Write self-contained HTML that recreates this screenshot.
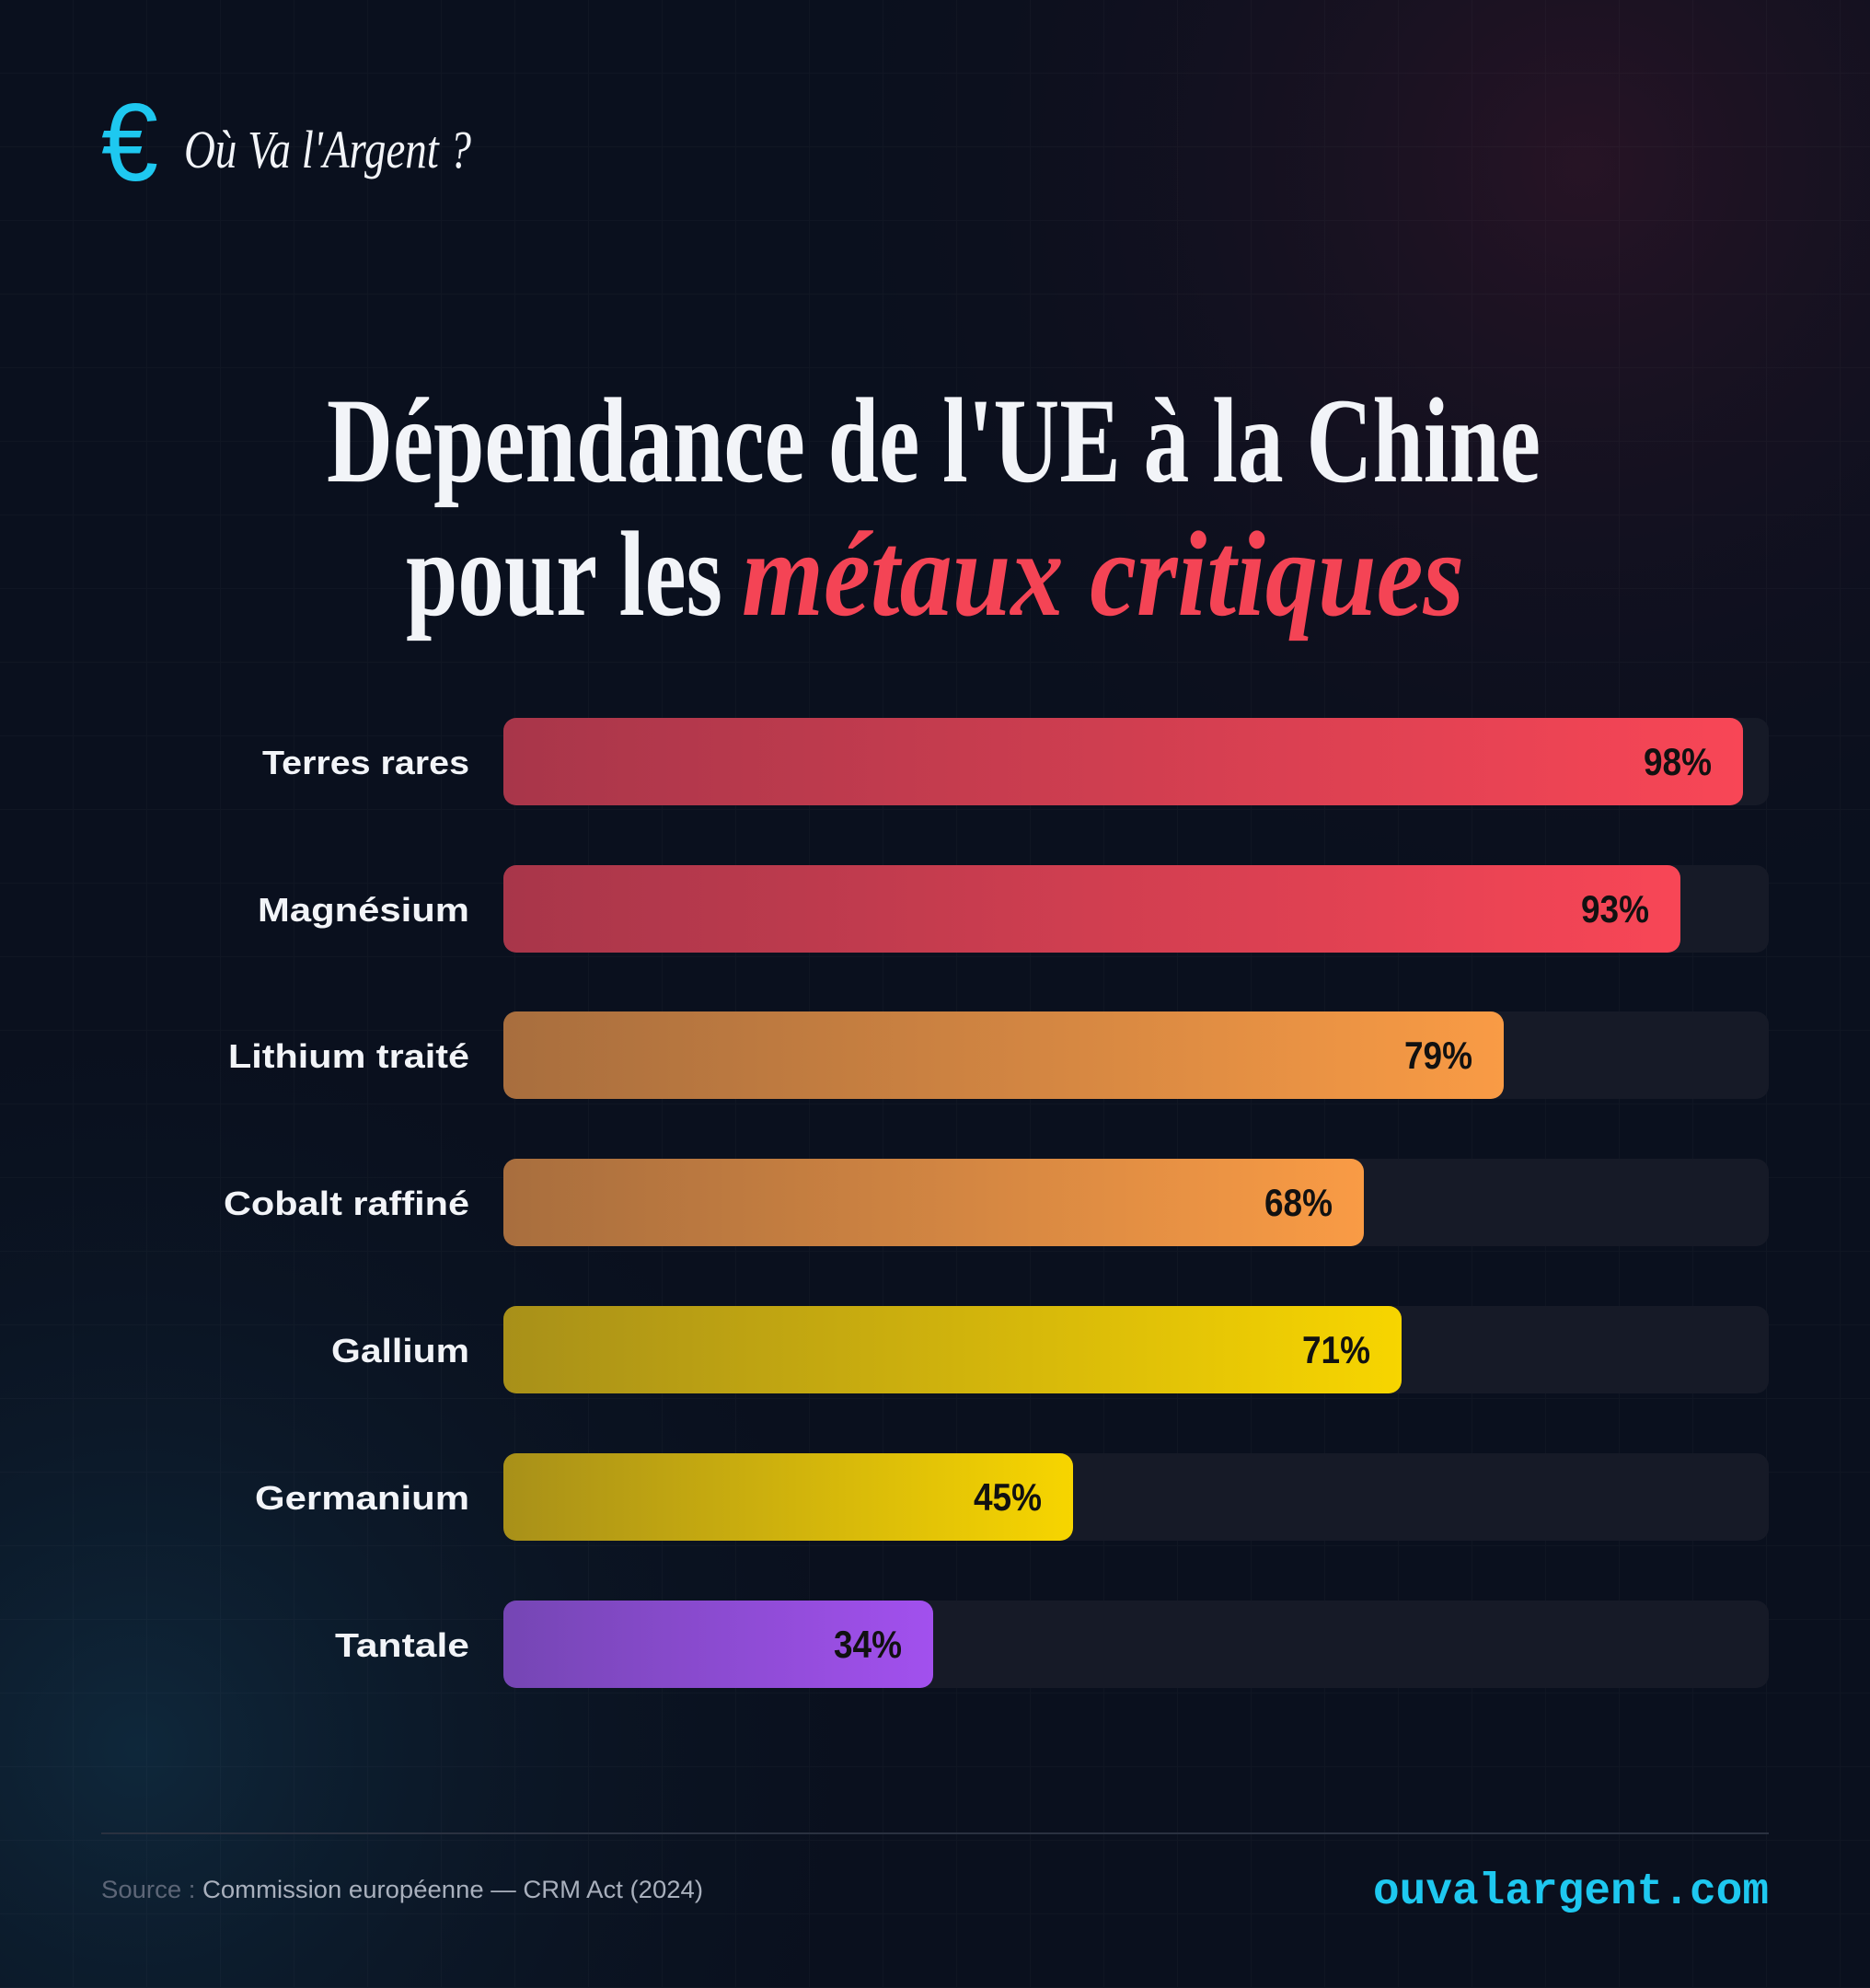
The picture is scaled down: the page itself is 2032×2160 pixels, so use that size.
<!DOCTYPE html>
<html><head><meta charset="utf-8"><style>
html,body{margin:0;padding:0;background:#0a1120;}
svg{display:block}
</style></head><body>
<svg width="2032" height="2160" viewBox="0 0 2032 2160" xmlns="http://www.w3.org/2000/svg">
<defs>
<radialGradient id="g1" cx="1720" cy="180" r="900" gradientUnits="userSpaceOnUse">
<stop offset="0" stop-color="#2a1426" stop-opacity="0.9"/><stop offset="1" stop-color="#0a0f1c" stop-opacity="0"/></radialGradient>
<radialGradient id="g2" cx="150" cy="1900" r="900" gradientUnits="userSpaceOnUse">
<stop offset="0" stop-color="#0f2a3e" stop-opacity="0.9"/><stop offset="1" stop-color="#0a0f1c" stop-opacity="0"/></radialGradient>
<pattern id="grid" width="80" height="80" patternUnits="userSpaceOnUse"><path d="M80 0V80H0" fill="none" stroke="#ffffff" stroke-opacity="0.025" stroke-width="2"/></pattern>
<linearGradient id="red" x1="0" x2="1"><stop offset="0" stop-color="#a8364a"/><stop offset="1" stop-color="#f84656"/></linearGradient>
<linearGradient id="org" x1="0" x2="1"><stop offset="0" stop-color="#a86e3e"/><stop offset="1" stop-color="#f99b45"/></linearGradient>
<linearGradient id="yel" x1="0" x2="1"><stop offset="0" stop-color="#a89019"/><stop offset="1" stop-color="#f7d500"/></linearGradient>
<linearGradient id="pur" x1="0" x2="1"><stop offset="0" stop-color="#7546b4"/><stop offset="1" stop-color="#a250ee"/></linearGradient>
</defs>
<rect width="2032" height="2160" fill="#0a101e"/>
<rect width="2032" height="2160" fill="url(#g1)"/>
<rect width="2032" height="2160" fill="url(#g2)"/>
<rect width="2032" height="2160" fill="url(#grid)"/>

<text x="110" y="196" font-family="Liberation Sans, sans-serif" font-size="120" fill="#1ec8f0" textLength="62" lengthAdjust="spacingAndGlyphs">€</text>
<text x="200" y="182" font-family="Liberation Serif, serif" font-style="italic" font-size="58" fill="#f2f4f8" textLength="312" lengthAdjust="spacingAndGlyphs">Où Va l'Argent ?</text>

<text x="355" y="523" font-family="Liberation Serif, serif" font-weight="bold" font-size="132" fill="#f2f4f8" textLength="1319" lengthAdjust="spacingAndGlyphs">Dépendance de l'UE à la Chine</text>
<text x="441" y="668" font-family="Liberation Serif, serif" font-weight="bold" font-size="132" fill="#f2f4f8" textLength="344" lengthAdjust="spacingAndGlyphs">pour les</text>
<text x="806" y="668" font-family="Liberation Serif, serif" font-weight="bold" font-style="italic" font-size="132" fill="#f44455" textLength="785" lengthAdjust="spacingAndGlyphs">métaux critiques</text>

<g font-family="Liberation Sans, sans-serif" font-weight="bold">
<g transform="translate(0,780)">
<rect x="547" width="1375" height="95" rx="14" fill="#161a27"/><rect x="547" width="1347" height="95" rx="14" fill="url(#red)"/>
<text x="285" y="61" font-size="36" fill="#f2f4f8" textLength="225" lengthAdjust="spacingAndGlyphs">Terres rares</text>
<text x="1786" y="62" font-size="42" fill="#111" textLength="74" lengthAdjust="spacingAndGlyphs">98%</text></g>
<g transform="translate(0,940)">
<rect x="547" width="1375" height="95" rx="14" fill="#161a27"/><rect x="547" width="1279" height="95" rx="14" fill="url(#red)"/>
<text x="280" y="61" font-size="36" fill="#f2f4f8" textLength="230" lengthAdjust="spacingAndGlyphs">Magnésium</text>
<text x="1718" y="62" font-size="42" fill="#111" textLength="74" lengthAdjust="spacingAndGlyphs">93%</text></g>
<g transform="translate(0,1099)">
<rect x="547" width="1375" height="95" rx="14" fill="#161a27"/><rect x="547" width="1087" height="95" rx="14" fill="url(#org)"/>
<text x="248" y="61" font-size="36" fill="#f2f4f8" textLength="262" lengthAdjust="spacingAndGlyphs">Lithium traité</text>
<text x="1526" y="62" font-size="42" fill="#111" textLength="74" lengthAdjust="spacingAndGlyphs">79%</text></g>
<g transform="translate(0,1259)">
<rect x="547" width="1375" height="95" rx="14" fill="#161a27"/><rect x="547" width="935" height="95" rx="14" fill="url(#org)"/>
<text x="243" y="61" font-size="36" fill="#f2f4f8" textLength="267" lengthAdjust="spacingAndGlyphs">Cobalt raffiné</text>
<text x="1374" y="62" font-size="42" fill="#111" textLength="74" lengthAdjust="spacingAndGlyphs">68%</text></g>
<g transform="translate(0,1419)">
<rect x="547" width="1375" height="95" rx="14" fill="#161a27"/><rect x="547" width="976" height="95" rx="14" fill="url(#yel)"/>
<text x="360" y="61" font-size="36" fill="#f2f4f8" textLength="150" lengthAdjust="spacingAndGlyphs">Gallium</text>
<text x="1415" y="62" font-size="42" fill="#111" textLength="74" lengthAdjust="spacingAndGlyphs">71%</text></g>
<g transform="translate(0,1579)">
<rect x="547" width="1375" height="95" rx="14" fill="#161a27"/><rect x="547" width="619" height="95" rx="14" fill="url(#yel)"/>
<text x="277" y="61" font-size="36" fill="#f2f4f8" textLength="233" lengthAdjust="spacingAndGlyphs">Germanium</text>
<text x="1058" y="62" font-size="42" fill="#111" textLength="74" lengthAdjust="spacingAndGlyphs">45%</text></g>
<g transform="translate(0,1739)">
<rect x="547" width="1375" height="95" rx="14" fill="#161a27"/><rect x="547" width="467" height="95" rx="14" fill="url(#pur)"/>
<text x="364" y="61" font-size="36" fill="#f2f4f8" textLength="146" lengthAdjust="spacingAndGlyphs">Tantale</text>
<text x="906" y="62" font-size="42" fill="#111" textLength="74" lengthAdjust="spacingAndGlyphs">34%</text></g>
</g>

<rect x="110" y="1991" width="1812" height="2" fill="#2a3140"/>
<text x="110" y="2062" font-family="Liberation Sans, sans-serif" font-size="27" fill="#5d6677" textLength="654" lengthAdjust="spacingAndGlyphs">Source : <tspan fill="#a9b0bd">Commission européenne — CRM Act (2024)</tspan></text>
<text x="1922" y="2068" text-anchor="end" font-family="Liberation Mono, monospace" font-weight="bold" font-size="48" fill="#1ec8f0" textLength="430" lengthAdjust="spacingAndGlyphs">ouvalargent.com</text>
</svg>
</body></html>
